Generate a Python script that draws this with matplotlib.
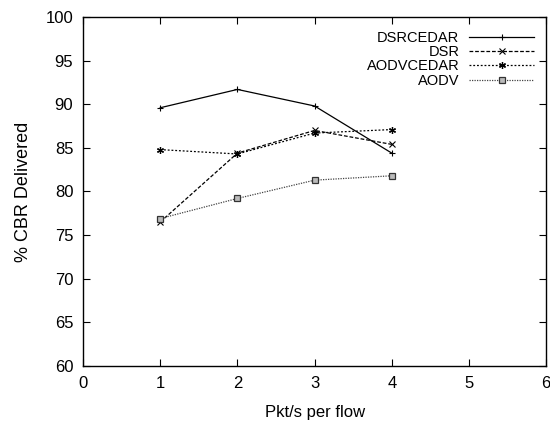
import matplotlib.pyplot as plt

plt.rcParams['font.family'] = ['Liberation Sans', 'DejaVu Sans']

# data
rates = [1, 2, 3, 4]
dsrcedar = [89.6, 91.7, 89.8, 84.4]
dsr = [76.5, 84.4, 87.0, 85.4]
aodvcedar = [84.8, 84.3, 86.7, 87.1]
aodv = [76.9, 79.2, 81.3, 81.8]

fig = plt.figure(figsize=(5.5, 4.26), dpi=100)
ax = fig.add_axes([0.151, 0.141, 0.842, 0.819])

ax.plot(rates, dsrcedar, color='black', lw=0.9, linestyle='-', marker='+', ms=5, mew=0.8, label='DSRCEDAR')
ax.plot(rates, dsr, color='black', lw=0.9, linestyle=(0, (3, 1.5)), marker='x', ms=4.5, mew=0.8, label='DSR')
ax.plot(rates, aodvcedar, color='black', lw=0.9, linestyle=(0, (1.5, 1.5)), marker=(6, 2, 0), ms=5, mew=0.9, label='AODVCEDAR')
ax.plot(rates, aodv, color='#444444', lw=0.9, linestyle=(0, (1, 1)), marker='s', ms=5, mew=0.9,
        mfc='#bbbbbb', mec='#333333', label='AODV')

ax.set_xlim(0, 6)
ax.set_ylim(60, 100)
ax.set_xticks(range(0, 7))
ax.set_yticks(range(60, 101, 5))
ax.tick_params(direction='in', top=True, right=True, labelsize=12, length=5, width=0.8, pad=7)
for s in ax.spines.values():
    s.set_linewidth(1.0)

ax.set_xlabel('Pkt/s per flow', fontsize=12, labelpad=10)
ax.set_ylabel('% CBR Delivered', fontsize=13, labelpad=10)

leg = ax.legend(loc='upper right', markerfirst=False, frameon=False, fontsize=10.5,
                handlelength=4.4, handletextpad=0.7, labelspacing=0.02,
                borderaxespad=0.3, bbox_to_anchor=(0.995, 0.99))
for t in leg.get_texts():
    t.set_ha('right')

fig.savefig('out.png', dpi=100)
